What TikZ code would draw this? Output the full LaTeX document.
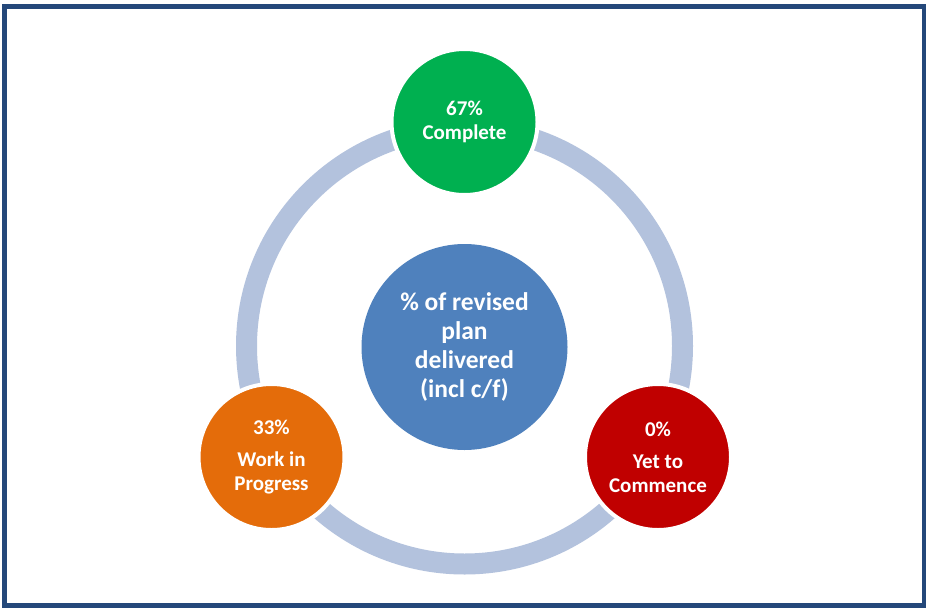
\documentclass[tikz,border=0pt]{standalone}
\usepackage{fontspec}
\setmainfont{Carlito}
\definecolor{frameblue}{HTML}{24487A}
\definecolor{ringblue}{HTML}{B3C2DD}
\definecolor{cgreen}{HTML}{00B050}
\definecolor{corange}{HTML}{E46C0A}
\definecolor{cred}{HTML}{C00000}
\definecolor{cblue}{HTML}{4F81BD}
\tikzset{
  smallball/.style={circle, minimum size=146pt, inner sep=0pt, draw=white, line width=4pt,
    text=white, align=center, font=\fontsize{21}{24}\selectfont\bfseries},
  bigball/.style={circle, minimum size=206pt, inner sep=0pt, fill=cblue,
    text=white, align=center, font=\fontsize{25.5}{29}\selectfont\bfseries},
  ringstyle/.style={circle, minimum size=436pt, inner sep=0pt, draw=ringblue, line width=21pt},
}
\begin{document}
\begin{tikzpicture}[x=1pt,y=-1pt]
\useasboundingbox (0,0) rectangle (926,608);
\fill[white] (0,0) rectangle (926,608);
\draw[frameblue, line width=5pt] (4,6) rectangle (924,605.5);
\node[ringstyle] (ring) at (464.5,346) {};
\node[bigball] (center) at (464.5,347) {\% of revised\\plan\\delivered\\(incl c/f)};
\node[smallball, fill=cgreen] (complete) at (464.5,122) {67\%\\Complete};
\node[smallball, fill=corange] (wip) at (271.5,457) {33\%\\[8pt]Work in\\Progress};
\node[smallball, fill=cred] (ytc) at (658,457) {0\%\\[8pt]Yet to\\Commence};
\end{tikzpicture}
\end{document}
